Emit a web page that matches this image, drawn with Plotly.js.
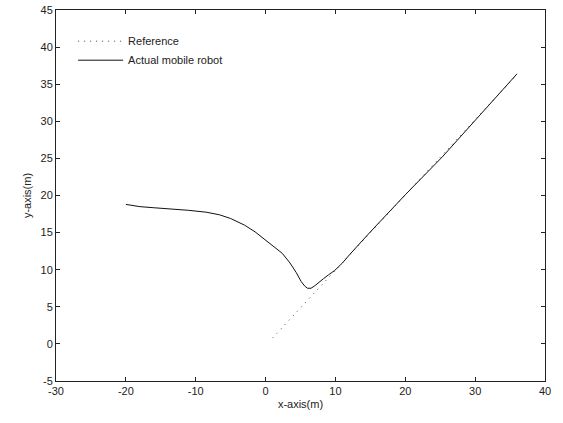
<!DOCTYPE html>
<html>
<head>
<meta charset="utf-8">
<script src="https://cdn.plot.ly/plotly-3.0.1.min.js"></script>
<style>html,body{margin:0;padding:0;background:#fff;}</style>
</head>
<body>
<div id="chart" style="width:563px;height:423px;"></div>
<script>
// Reference trajectory
const refX = [1.0, 36];
const refY = [0.8, 36.3];
// Actual mobile robot trajectory
const actX = [-20, -18, -16, -13.7, -11, -8.5, -6.6, -5, -3, -1.5, 0, 1.2, 2.4, 3.5, 4.4, 5.1, 5.6, 6.0, 6.5, 7.0, 7.6, 8.3, 9.0, 9.9, 11, 12, 15, 20, 25.3, 30, 36];
const actY = [18.8, 18.5, 18.35, 18.2, 18.0, 17.75, 17.4, 16.9, 16.0, 15.1, 14.0, 13.2, 12.2, 10.9, 9.6, 8.4, 7.8, 7.5, 7.5, 7.8, 8.3, 8.8, 9.3, 9.9, 10.9, 12.0, 15.1, 20.1, 25.2, 30.1, 36.4];

const xTicks = [-30, -20, -10, 0, 10, 20, 30, 40];
const yTicks = [-5, 0, 5, 10, 15, 20, 25, 30, 35, 40, 45];

const traces = [
  {x: refX, y: refY, mode: 'lines', name: 'Reference',
   line: {color: '#444', width: 1, dash: '1px,5px'}},
  {x: actX, y: actY, mode: 'lines', name: 'Actual mobile robot',
   line: {color: '#111', width: 1}}
];

const fontFam = 'Liberation Sans, Arial, sans-serif';
const axisCommon = {
  showgrid: false, zeroline: false, showline: true, mirror: 'ticks',
  linecolor: '#222', linewidth: 1, ticks: 'inside', ticklen: 4,
  tickcolor: '#222', tickfont: {family: fontFam, size: 11, color: '#222'}
};

const layout = {
  width: 563, height: 423,
  margin: {l: 56, r: 18, t: 10, b: 42},
  paper_bgcolor: '#fff', plot_bgcolor: '#fff',
  showlegend: true,
  legend: {x: 0.035, y: 0.955, xanchor: 'left', yanchor: 'top',
    bgcolor: 'rgba(0,0,0,0)', borderwidth: 0, tracegroupgap: 0, itemwidth: 45,
    font: {family: fontFam, size: 11, color: '#222'}},
  xaxis: Object.assign({}, axisCommon, {
    range: [-30, 40], tickvals: xTicks, ticktext: xTicks.map(String),
    title: {text: 'x-axis(m)', standoff: 4, font: {family: fontFam, size: 11, color: '#222'}}
  }),
  yaxis: Object.assign({}, axisCommon, {
    range: [-5, 45], tickvals: yTicks, ticktext: yTicks.map(String),
    title: {text: 'y-axis(m)', standoff: 6, font: {family: fontFam, size: 11, color: '#222'}}
  })
};

Plotly.newPlot('chart', traces, layout, {staticPlot: true, displayModeBar: false});
</script>
</body>
</html>
